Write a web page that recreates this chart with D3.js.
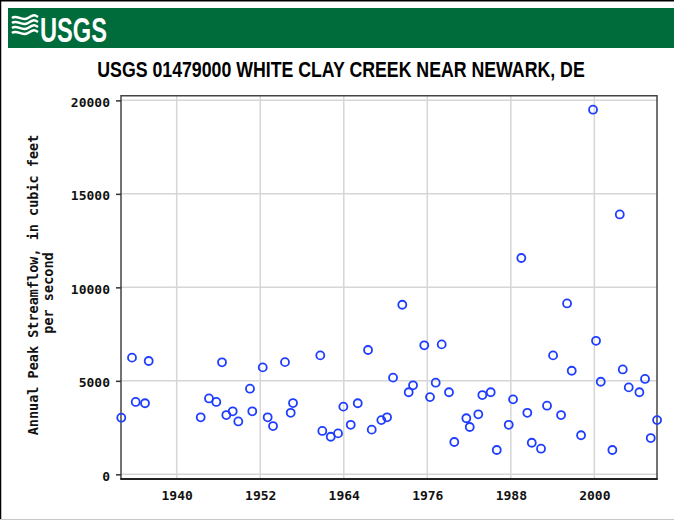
<!DOCTYPE html>
<html>
<head>
<meta charset="utf-8">
<script src="https://cdn.jsdelivr.net/npm/d3@7/dist/d3.min.js"></script>
<style>
  html, body { margin: 0; padding: 0; background: #fff; }
  svg { display: block; }
</style>
</head>
<body>
<script>
// Annual peak streamflow, USGS 01479000 White Clay Creek near Newark, DE
// Peak dates as decimal years, peaks in cubic feet per second.
const peakYears = [
  1932.04, 1933.58, 1934.11, 1935.45, 1935.98, 1943.45, 1944.64, 1945.69, 1946.51, 1947.13,
  1948.05, 1948.85, 1950.53, 1950.86, 1952.36, 1953.07, 1953.84, 1955.56, 1956.38, 1956.71,
  1960.63, 1960.92, 1962.13, 1963.18, 1963.94, 1965.00, 1966.01, 1967.49, 1968.02, 1969.40,
  1970.22, 1971.08, 1972.41, 1973.33, 1973.95, 1975.57, 1976.39, 1977.21, 1978.07, 1979.12,
  1979.88, 1981.61, 1982.10, 1983.33, 1983.91, 1985.11, 1985.98, 1987.70, 1988.32, 1989.51,
  1990.37, 1991.01, 1992.34, 1993.20, 1994.07, 1995.22, 1996.08, 1996.75, 1998.09, 1999.81,
  2000.24, 2000.92, 2002.59, 2003.65, 2004.08, 2004.94, 2006.47, 2007.28, 2008.10, 2009.01
];
const peakFlows = [
  3030, 6240, 3870, 3800, 6060, 3050, 4060, 3870, 5990, 3170,
  3370, 2830, 4580, 3370, 5720, 3050, 2580, 6000, 3290, 3810,
  6360, 2320, 2010, 2190, 3620, 2650, 3800, 6650, 2390, 2900,
  3050, 5170, 9070, 4390, 4760, 6900, 4130, 4900, 6950, 4390,
  1730, 3000, 2530, 3210, 4240, 4390, 1300, 2650, 4010, 11570,
  3290, 1690, 1370, 3670, 6360, 3170, 9140, 5540, 2090, 19500,
  7140, 4950, 1300, 13900, 5610, 4650, 4390, 5100, 1940, 2900
];
const xTickYears = [1940, 1952, 1964, 1976, 1988, 2000];
const yTickValues = [0, 5000, 10000, 15000, 20000];
const yearDomain = [1932, 2009];
const flowDomain = [-250, 20250];

const W = 674, H = 521;
const plot = { left: 121, right: 657, top: 95.7, bottom: 479 };
const monoFont = "'DejaVu Sans Mono', 'Liberation Mono', monospace";
const sansFont = "'Liberation Sans', Arial, sans-serif";

const svg = d3.select("body").append("svg")
  .attr("width", W).attr("height", H);

// squeezes a text horizontally so that it spans the given width,
// keeping its font size (a condensed face)
function condense(sel, x0, baseline, width, anchor) {
  sel.attr("x", 0).attr("y", 0).attr("text-anchor", anchor);
  const len = sel.node().getComputedTextLength();
  const k = len > 0 ? width / len : 1;
  sel.attr("transform", `translate(${x0},${baseline}) scale(${k},1)`);
  return sel;
}

// page border
svg.append("rect").attr("x", 0).attr("y", 0).attr("width", W).attr("height", H).attr("fill", "#fff");
svg.append("line").attr("x1", 0.5).attr("y1", 0).attr("x2", 0.5).attr("y2", H - 2)
  .attr("stroke", "#000").attr("stroke-width", 1.5);
svg.append("line").attr("x1", 0).attr("y1", 0.75).attr("x2", W).attr("y2", 0.75)
  .attr("stroke", "#000").attr("stroke-width", 1.5);
svg.append("line").attr("x1", 0).attr("y1", 519.5).attr("x2", W).attr("y2", 519.5)
  .attr("stroke", "#c8c8c8").attr("stroke-width", 1.2);

// USGS banner
const banner = svg.append("g");
banner.append("rect").attr("x", 8).attr("y", 8).attr("width", W - 8).attr("height", 40).attr("fill", "#006b3b");
const waves = banner.append("g").attr("fill", "none").attr("stroke", "#fff").attr("stroke-width", 2.4);
[0, 5, 10, 15].forEach(dy => {
  waves.append("path")
    .attr("d", `M12,${18 + dy} C17,${14 + dy} 22,${22 + dy} 28,${18 + dy} S35,${15 + dy} 38,${17 + dy}`);
});
const logoText = banner.append("text")
  .attr("font-family", sansFont).attr("font-size", 35)
  .attr("font-weight", "bold").attr("fill", "#fff")
  .text("USGS");
condense(logoText, 40, 42, 67, "start");

// title
const title = svg.append("text")
  .attr("font-family", sansFont).attr("font-size", 21.5)
  .attr("font-weight", "bold").attr("fill", "#000")
  .text("USGS 01479000 WHITE CLAY CREEK NEAR NEWARK, DE");
condense(title, 341, 77, 488, "middle");

// scales
const x = d3.scaleLinear().domain(yearDomain).range([plot.left, plot.right]);
const y = d3.scaleLinear().domain(flowDomain).range([plot.bottom, plot.top]);

// grid
const grid = svg.append("g").attr("stroke", "#d6d6d6").attr("stroke-width", 1.5);
grid.selectAll("line.gx").data(xTickYears).join("line").attr("class", "gx")
  .attr("x1", d => x(d)).attr("x2", d => x(d))
  .attr("y1", plot.top).attr("y2", plot.bottom);
grid.selectAll("line.gy").data(yTickValues).join("line").attr("class", "gy")
  .attr("x1", plot.left).attr("x2", plot.right)
  .attr("y1", d => y(d)).attr("y2", d => y(d));

// frame
svg.append("path")
  .attr("d", `M${plot.left},${plot.bottom} V${plot.top} H${plot.right} V${plot.bottom}`)
  .attr("fill", "none").attr("stroke", "#444").attr("stroke-width", 1.5);
svg.append("line")
  .attr("x1", plot.left - 0.75).attr("x2", plot.right + 0.75)
  .attr("y1", plot.bottom).attr("y2", plot.bottom)
  .attr("stroke", "#222").attr("stroke-width", 2);

// y axis
const yAxis = d3.axisLeft(y).tickValues(yTickValues).tickSize(5).tickPadding(6)
  .tickFormat(d3.format("d"));
const gy = svg.append("g").attr("transform", `translate(${plot.left},0)`).call(yAxis);
gy.select(".domain").remove();
gy.selectAll(".tick line").attr("stroke", "#333").attr("stroke-width", 1.5);
gy.selectAll(".tick text")
  .attr("font-family", monoFont).attr("font-weight", "bold").attr("font-size", 13)
  .attr("fill", "#111").attr("dy", "0.45em");

// x axis
const xAxis = d3.axisBottom(x).tickValues(xTickYears).tickSize(0).tickPadding(12)
  .tickFormat(d3.format("d"));
const gx = svg.append("g").attr("transform", `translate(0,${plot.bottom})`).call(xAxis);
gx.select(".domain").remove();
gx.selectAll(".tick text")
  .attr("font-family", monoFont).attr("font-weight", "bold").attr("font-size", 13)
  .attr("fill", "#111");

// y axis title
const yTitle = svg.append("text")
  .attr("transform", "translate(38,285) rotate(-90)")
  .attr("text-anchor", "middle")
  .attr("font-family", monoFont).attr("font-weight", "bold").attr("font-size", 13.5)
  .attr("fill", "#111");
yTitle.append("tspan").attr("x", 0).attr("y", 0).text("Annual Peak Streamflow, in cubic feet");
yTitle.append("tspan").attr("x", -8).attr("y", 15).text("per second");

// peaks
const peaks = peakYears.map((t, i) => ({ t, q: peakFlows[i] }));
svg.append("g").selectAll("circle").data(peaks).join("circle")
  .attr("cx", d => x(d.t)).attr("cy", d => y(d.q)).attr("r", 4)
  .attr("fill", "none").attr("stroke", "#1f3dff").attr("stroke-width", 1.8);
</script>
</body>
</html>
